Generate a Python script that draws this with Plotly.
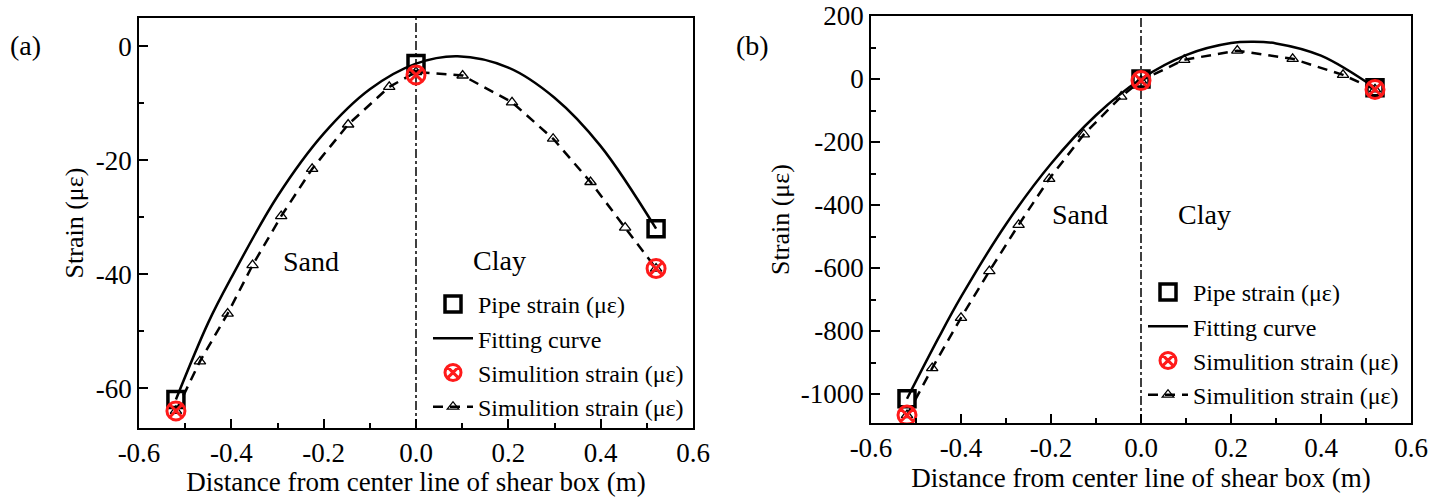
import plotly.graph_objects as go

# ---------------- Panel (a) data ----------------
a_pipe_x = [-0.52, 0.0, 0.52]
a_pipe_y = [-62, -3, -32]

a_fit_x = [-0.52, -0.45, -0.4, -0.3, -0.2, -0.1, 0.0, 0.09, 0.2, 0.3, 0.4, 0.52]
a_fit_y = [-62, -48.5, -40.6, -26.3, -15.3, -7.5, -3.0, -1.7, -3.7, -9.0, -17.5, -32]

a_simpt_x = [-0.52, 0.0, 0.52]
a_simpt_y = [-64, -5, -39]

a_sim_x = [-0.52, -0.468, -0.408, -0.354, -0.292, -0.225, -0.147, -0.058, 0.0,
           0.101, 0.208, 0.297, 0.378, 0.453, 0.52]
a_sim_y = [-64, -55.3, -46.9, -38.4, -29.8, -21.5, -13.7, -7.1, -4.5,
           -5.1, -9.8, -16.2, -23.8, -31.8, -39]

# ---------------- Panel (b) data ----------------
b_pipe_x = [-0.52, 0.0, 0.52]
b_pipe_y = [-1015, 0, -28]

b_fit_x = [-0.52, -0.45, -0.4, -0.3, -0.2, -0.1, 0.0, 0.1, 0.2, 0.25, 0.3, 0.4, 0.52]
b_fit_y = [-1015, -822, -692, -461, -269, -115, 0, 76, 114, 118, 113, 74, -28]

b_simpt_x = [-0.52, 0.0, 0.52]
b_simpt_y = [-1067, -5, -33]

b_sim_x = [-0.52, -0.464, -0.400, -0.337, -0.272, -0.204, -0.127, -0.044, 0.0,
           0.096, 0.214, 0.337, 0.449, 0.52]
b_sim_y = [-1067, -918, -758, -610, -463, -317, -176, -56, -5,
           61, 90, 64, 13, -33]

# ---------------- Axis ticks ----------------
x_tickvals = [-0.6, -0.4, -0.2, 0.0, 0.2, 0.4, 0.6]
x_ticktext = ["-0.6", "-0.4", "-0.2", "0.0", "0.2", "0.4", "0.6"]
a_y_tickvals = [0, -20, -40, -60]
a_y_ticktext = ["0", "-20", "-40", "-60"]
b_y_tickvals = [200, 0, -200, -400, -600, -800, -1000]
b_y_ticktext = ["200", "0", "-200", "-400", "-600", "-800", "-1000"]

boundary_x = 0.0

FONT = "Liberation Serif"
name_pipe = "Pipe strain (με)"
name_fit = "Fitting curve"
name_sim = "Simulition strain (με)"

fig = go.Figure()


def add_panel(xa, ya, leg, px, py, fx, fy, sx, sy, tx, ty):
    fig.add_trace(go.Scatter(x=sx, y=sy, mode="lines+markers", name=name_sim,
                             xaxis=xa, yaxis=ya, legend=leg, legendrank=4,
                             line=dict(color="black", width=2.5, dash="10px,7px"),
                             marker=dict(symbol="triangle-up-open", size=10, color="black",
                                         line=dict(width=1.3, color="black"))))
    fig.add_trace(go.Scatter(x=fx, y=fy, mode="lines", name=name_fit,
                             xaxis=xa, yaxis=ya, legend=leg, legendrank=2,
                             line=dict(color="black", width=2.5, shape="spline")))
    fig.add_trace(go.Scatter(x=px, y=py, mode="markers", name=name_pipe,
                             xaxis=xa, yaxis=ya, legend=leg, legendrank=1,
                             marker=dict(symbol="square-open", size=16, color="black",
                                         line=dict(width=3.5, color="black"))))
    fig.add_trace(go.Scatter(x=tx, y=ty, mode="markers", name=name_sim,
                             xaxis=xa, yaxis=ya, legend=leg, legendrank=3,
                             marker=dict(symbol="circle-x-open", size=18, color="#ff1a1a",
                                         line=dict(width=3, color="#ff1a1a"))))


add_panel("x", "y", "legend", a_pipe_x, a_pipe_y, a_fit_x, a_fit_y,
          a_sim_x, a_sim_y, a_simpt_x, a_simpt_y)
add_panel("x2", "y2", "legend2", b_pipe_x, b_pipe_y, b_fit_x, b_fit_y,
          b_sim_x, b_sim_y, b_simpt_x, b_simpt_y)

W, H = 1444, 497
TICKFONT = dict(family=FONT, size=27, color="black")
XTITLEFONT = dict(family=FONT, size=27, color="black")
YTITLEFONT = dict(family=FONT, size=26, color="black")
LEGFONT = dict(family=FONT, size=24, color="black")

minor_style = dict(ticks="inside", ticklen=5, tickwidth=1.5, tickcolor="black", tickmode="linear")


def xaxis_def(domain, anchor):
    return dict(showline=True, mirror=True, linecolor="black", linewidth=1.5,
                ticks="inside", ticklen=9, tickwidth=1.5, tickcolor="black",
                showgrid=False, zeroline=False, tickfont=TICKFONT, automargin=False,
                range=[-0.6, 0.6], tickmode="array",
                tickvals=x_tickvals, ticktext=x_ticktext,
                minor=dict(minor_style, tick0=-0.5, dtick=0.2),
                title=dict(text="Distance from center line of shear box (m)",
                           font=XTITLEFONT, standoff=5),
                domain=domain, anchor=anchor)


def yaxis_def(domain, anchor, rng, tv, tt, mt0, mdt, standoff):
    return dict(showline=True, mirror=True, linecolor="black", linewidth=1.5,
                ticks="inside", ticklen=9, tickwidth=1.5, tickcolor="black",
                showgrid=False, zeroline=False, tickfont=TICKFONT, automargin=False,
                range=rng, tickmode="array", tickvals=tv, ticktext=tt,
                minor=dict(minor_style, tick0=mt0, dtick=mdt),
                title=dict(text="Strain (με)", font=YTITLEFONT, standoff=standoff),
                domain=domain, anchor=anchor)


fig.update_layout(
    width=W, height=H,
    margin=dict(l=0, r=0, t=0, b=0, autoexpand=False),
    font=dict(family=FONT, size=26, color="black"),
    paper_bgcolor="white", plot_bgcolor="white",
    xaxis=xaxis_def([139 / W, 693 / W], "y"),
    yaxis=yaxis_def([1 - 428 / H, 1 - 18 / H], "x", [-67, 5],
                    a_y_tickvals, a_y_ticktext, -10, 20, 5),
    xaxis2=xaxis_def([871 / W, 1411 / W], "y2"),
    yaxis2=yaxis_def([1 - 423 / H, 1 - 16 / H], "x2", [-1092, 200],
                     b_y_tickvals, b_y_ticktext, 100, 200, 4),
    legend=dict(x=428 / W, y=1 - 282 / H, xanchor="left", yanchor="top",
                bgcolor="rgba(0,0,0,0)", font=LEGFONT,
                traceorder="normal", itemwidth=40, tracegroupgap=0),
    legend2=dict(x=1143 / W, y=1 - 270 / H, xanchor="left", yanchor="top",
                 bgcolor="rgba(0,0,0,0)", font=LEGFONT,
                 traceorder="normal", itemwidth=40, tracegroupgap=0),
    showlegend=True,
)

# vertical dash-dot boundary lines
for xr, yr in (("x", "y domain"), ("x2", "y2 domain")):
    fig.add_shape(type="line", xref=xr, yref=yr, x0=boundary_x, x1=boundary_x, y0=0, y1=1,
                  line=dict(color="black", width=1.5, dash="dashdot"), layer="below")

# region labels and panel labels
labels = [("x", "y", -0.228, -37.8, "Sand"), ("x", "y", 0.181, -37.5, "Clay"),
          ("x2", "y2", -0.136, -429, "Sand"), ("x2", "y2", 0.14, -429, "Clay")]
for xr, yr, lx, ly, t in labels:
    fig.add_annotation(x=lx, y=ly, xref=xr, yref=yr, text=t, showarrow=False,
                       font=dict(family=FONT, size=28, color="black"))

fig.add_annotation(x=25 / W, y=1 - 46 / H, xref="paper", yref="paper", text="(a)",
                   xanchor="center", yanchor="middle", showarrow=False,
                   font=dict(family=FONT, size=28, color="black"))
fig.add_annotation(x=752 / W, y=1 - 46 / H, xref="paper", yref="paper", text="(b)",
                   xanchor="center", yanchor="middle", showarrow=False,
                   font=dict(family=FONT, size=28, color="black"))

fig.write_html("out.html")
